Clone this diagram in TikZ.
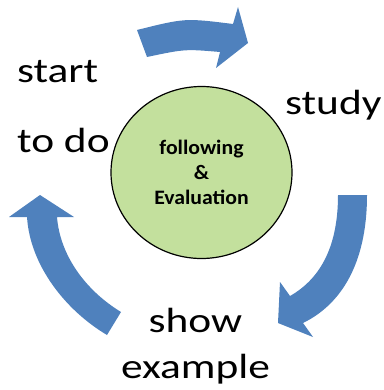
\documentclass[tikz,border=0pt]{standalone}
\usepackage{fontspec}
\setmainfont{Carlito}
\newfontfamily\wordfont[FakeStretch=1.24]{Carlito}
\newfontfamily\corefont[FakeStretch=1.06]{Carlito}
\usetikzlibrary{shapes.geometric}
\definecolor{cycleblue}{HTML}{4F81BD}
\definecolor{coregreen}{HTML}{C3E09D}

\begin{document}
\begin{tikzpicture}[x=1pt, y=-1pt,
	word/.style = {font=\wordfont\fontsize{35}{46}\selectfont, inner sep=0pt},
	core/.style = {ellipse, draw, line width=1.2pt, fill=coregreen,
		minimum width=181pt, minimum height=172pt, inner sep=0pt, align=center,
		font=\corefont\bfseries\fontsize{20.5}{25}\selectfont},
	turn/.style = {fill=cycleblue}]

	\useasboundingbox (0,0) rectangle (383,390);

	\node[core] (eval) at (201.5,172.5) {following\\\&\\Evaluation};

	\node[word, anchor=base west, align=left] (start) at (17,153) {start\\[24pt]to do};
	\node[word, anchor=base west] (study) at (285,115) {study};
	\node[word, anchor=base, align=center] (show) at (195.5,378) {show\\example};

	% curved block arrows
	\fill[turn] (137,30) .. controls (185,18) .. (233,24) -- (238,7) -- (248,43)
		-- (216,68) -- (220,52) .. controls (185,49) .. (147,57) -- cycle;
	\fill[turn] (338,195) -- (367,195) .. controls (367,265) and (340,305) .. (303,323)
		-- (313,337) -- (278,323) -- (280,282) -- (290,296)
		.. controls (318,280) and (338,250) .. (338,195) -- cycle;
	\fill[turn] (107,335) .. controls (65,310) and (30,265) .. (27,217) -- (9,217)
		-- (40,195) -- (74,217) -- (57,217) .. controls (60,255) and (85,290) .. (121,312)
		-- cycle;
\end{tikzpicture}
\end{document}
